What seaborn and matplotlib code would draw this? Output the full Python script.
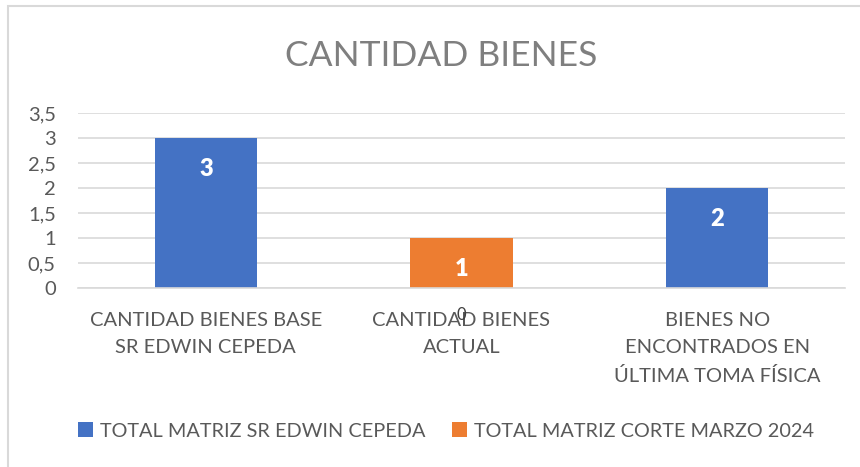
import pandas as pd
import matplotlib.pyplot as plt
import seaborn as sns
from matplotlib.patches import Rectangle, Patch

sns.set_theme(style="white")
plt.rcParams['font.family'] = ['Lato', 'DejaVu Sans']

# Datos
categorias = ["CANTIDAD BIENES BASE\nSR EDWIN CEPEDA", "CANTIDAD BIENES\nACTUAL",
              "BIENES NO\nENCONTRADOS EN\nÚLTIMA TOMA FÍSICA"]
serie_edwin = [3, 0, 2]
serie_marzo = [None, 1, None]
nombres_series = ["TOTAL MATRIZ SR EDWIN CEPEDA", "TOTAL MATRIZ CORTE MARZO 2024"]
colores = ["#4472c4", "#ed7d31"]
ticks_y = [0, 0.5, 1, 1.5, 2, 2.5, 3, 3.5]
etiquetas_y = ["0", "0,5", "1", "1,5", "2", "2,5", "3", "3,5"]

df = pd.DataFrame({
    "categoria": categorias * 2,
    "serie": [nombres_series[0]] * 3 + [nombres_series[1]] * 3,
    "valor": serie_edwin + serie_marzo,
})

fig = plt.figure(figsize=(8.6, 4.67), dpi=100)
fig.patch.set_facecolor("white")
fig.patches.append(Rectangle((8 / 860, -0.01), 1.0, 1 - 6 / 467 + 0.01, transform=fig.transFigure,
                             fill=False, edgecolor="#d9d9d9", linewidth=1.5))
ax = fig.add_axes([78 / 860, 1 - 288 / 467, (845 - 78) / 860, 175 / 467])

sns.barplot(data=df, x="categoria", y="valor", hue="serie", order=categorias,
            hue_order=nombres_series, palette=colores, dodge=False, width=0.4,
            linewidth=0, saturation=1, legend=False, ax=ax)

ax.set_ylim(0, 3.5)
ax.set_yticks(ticks_y)
ax.set_yticklabels(etiquetas_y)
ax.yaxis.grid(True, color="#d9d9d9", linewidth=1.2)
ax.set_axisbelow(True)
for s in ["top", "right", "left"]:
    ax.spines[s].set_visible(False)
ax.spines["bottom"].set_color("#d9d9d9")
ax.spines["bottom"].set_linewidth(1.2)
ax.tick_params(axis="y", length=0, pad=16, labelsize=14.5, labelcolor="#595959")
ax.tick_params(axis="x", length=0, pad=17, labelsize=14.5, labelcolor="#595959")
for t in ax.get_xticklabels():
    t.set_linespacing(1.75)
ax.set_xlabel("")
ax.set_ylabel("")

# Etiquetas de datos
for i, v in enumerate(serie_edwin):
    if v > 0:
        ax.annotate(str(v), (i, v), xytext=(0, -31), textcoords="offset pixels",
                    ha="center", va="center", color="white", fontsize=17, fontweight="heavy")
    else:
        ax.annotate(str(v), (i, v), xytext=(0, -27), textcoords="offset pixels",
                    ha="center", va="center", color="#404040", fontsize=12)
for i, v in enumerate(serie_marzo):
    if v is not None:
        ax.annotate(str(v), (i, v), xytext=(0, -31), textcoords="offset pixels",
                    ha="center", va="center", color="white", fontsize=17, fontweight="heavy")

fig.text(441 / 860, 1 - 56 / 467, "CANTIDAD BIENES", ha="center", va="center",
         fontsize=25.5, color="#7f7f7f")

handles = [Patch(facecolor=c, edgecolor="none") for c in colores]
fig.legend(handles, nombres_series, loc="center", bbox_to_anchor=(446 / 860, 1 - 431 / 467),
           ncol=2, frameon=False, fontsize=14.3, labelcolor="#595959",
           handlelength=0.75, handleheight=0.75, handletextpad=0.35, columnspacing=1.3)

fig.savefig("out.png", dpi=100, facecolor="white")
